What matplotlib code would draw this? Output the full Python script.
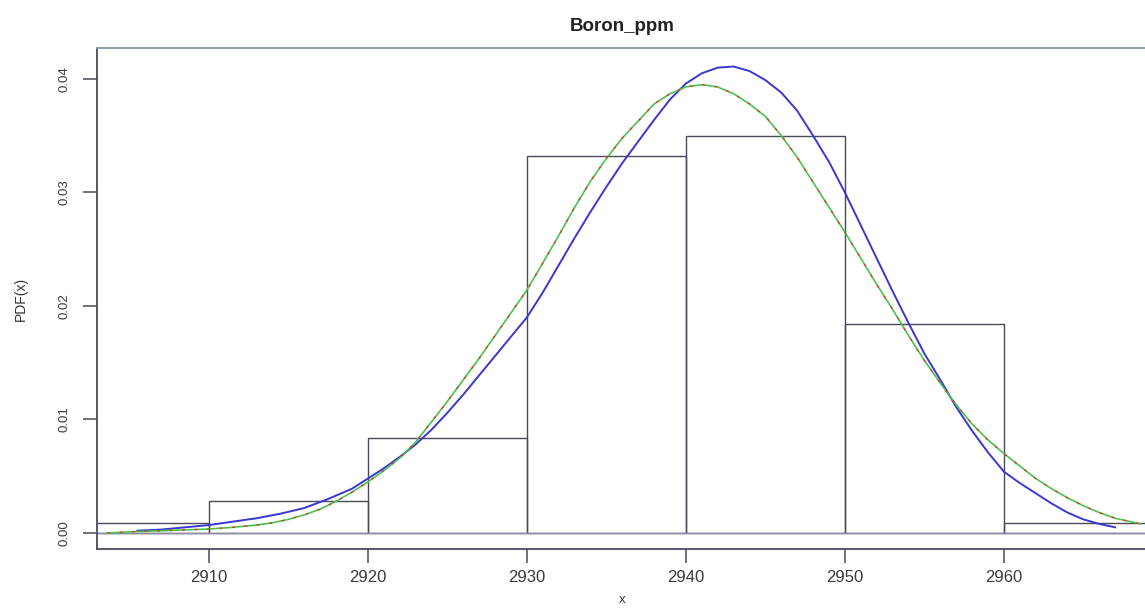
import numpy as np
import matplotlib
matplotlib.use('Agg')
import matplotlib.pyplot as plt

plt.rcParams['font.family'] = ['Liberation Sans', 'DejaVu Sans']

# Histogram of Boron_ppm (density scale, bin width 10)
bin_edges = [2900, 2910, 2920, 2930, 2940, 2950, 2960, 2970]
bin_density = [0.0009, 0.0028, 0.0084, 0.0332, 0.0350, 0.0184, 0.0009]

# Fitted density curves
blue_x = [2905.5, 2907, 2908.5, 2910, 2911.5, 2913, 2914.5, 2916, 2917.5, 2919,
          2920, 2921, 2922, 2923, 2924, 2925, 2926, 2927, 2928, 2929,
          2930, 2931, 2932, 2933, 2934, 2935, 2936, 2937, 2938, 2939,
          2940, 2941, 2942, 2943, 2944, 2945, 2946, 2947, 2948, 2949,
          2950, 2951, 2952, 2953, 2954, 2955, 2956, 2957, 2958, 2959,
          2960, 2961, 2962, 2963, 2964, 2965, 2966, 2967]
blue_y = [0.0002, 0.0003, 0.0005, 0.0007, 0.0010, 0.0013, 0.0017, 0.0022, 0.0030, 0.0039,
          0.0048, 0.0057, 0.0067, 0.0078, 0.0091, 0.0106, 0.0122, 0.0139, 0.0156, 0.0173,
          0.0190, 0.0212, 0.0236, 0.0260, 0.0283, 0.0305, 0.0326, 0.0345, 0.0364, 0.0382,
          0.0396, 0.0405, 0.0410, 0.0411, 0.0407, 0.0399, 0.0388, 0.0372, 0.0350, 0.0327,
          0.0300, 0.0271, 0.0242, 0.0213, 0.0185, 0.0158, 0.0135, 0.0111, 0.0090, 0.0071,
          0.0054, 0.0044, 0.0035, 0.0026, 0.0018, 0.0012, 0.0008, 0.0005]

green_x = [2903.6, 2905, 2907, 2909, 2910, 2911.5, 2913, 2914, 2915, 2916,
           2917, 2918, 2919, 2920, 2921, 2922, 2923, 2924, 2925, 2926,
           2927, 2928, 2929, 2930, 2931, 2932, 2933, 2934, 2935, 2936,
           2937, 2938, 2939, 2940, 2941, 2942, 2943, 2944, 2945, 2946,
           2947, 2948, 2949, 2950, 2951, 2952, 2953, 2954, 2955, 2956,
           2957, 2958, 2959, 2960, 2961, 2962, 2963, 2964, 2965, 2966,
           2967, 2968.6]
green_y = [0.0000, 0.0001, 0.0002, 0.0003, 0.00035, 0.0005, 0.0007, 0.0009, 0.0012, 0.0016,
           0.0021, 0.0028, 0.0036, 0.0045, 0.0055, 0.0066, 0.0080, 0.0098, 0.0116, 0.0135,
           0.0154, 0.0174, 0.0194, 0.0214, 0.0238, 0.0262, 0.0287, 0.0310, 0.0330, 0.0348,
           0.0363, 0.0378, 0.0387, 0.0393, 0.0395, 0.0393, 0.0387, 0.0378, 0.0367, 0.0350,
           0.0331, 0.0309, 0.0287, 0.0265, 0.0242, 0.0219, 0.0197, 0.0174, 0.0152, 0.0132,
           0.0113, 0.0096, 0.0082, 0.0070, 0.0059, 0.0048, 0.0039, 0.0031, 0.0024, 0.0018,
           0.0013, 0.0008]

fig = plt.figure(figsize=(11.45, 6.08), dpi=100)
ax = fig.add_axes([97 / 1145, 1 - 549 / 608, 1050 / 1145, 501 / 608])

# bars
for i in range(len(bin_density)):
    ax.add_patch(plt.Rectangle((bin_edges[i], 0), bin_edges[i + 1] - bin_edges[i],
                               bin_density[i], fill=False, edgecolor='#4a4a5a', lw=1.0))
ax.axhline(0, color='#8c8ca8', lw=1.0)

ax.plot(blue_x, blue_y, color='#3838d0', lw=1.4)
ax.plot(green_x, green_y, color='#4cc24c', lw=1.2)
ax.plot(green_x, green_y, color='#d04030', lw=1.0, dashes=(2, 7))

ax.set_xlim(2902.96, 2969.0)
ax.set_ylim(-0.00141, 0.04273)
ax.set_xticks([2910, 2920, 2930, 2940, 2950, 2960])
ax.set_yticks([0.00, 0.01, 0.02, 0.03, 0.04])
ax.set_yticklabels(['0.00', '0.01', '0.02', '0.03', '0.04'], rotation=90, va='center')

for s in ax.spines.values():
    s.set_color('#4a4a5a')
    s.set_linewidth(1.3)
ax.spines['top'].set_color('#8c9aa8')
ax.tick_params(direction='out', length=10, width=1.1, color='#4a4a5a',
               labelcolor='#3a3a3a')
ax.tick_params(axis='x', labelsize=12, pad=5)
ax.tick_params(axis='y', labelsize=9.5, pad=9)

ax.set_title('Boron_ppm', fontsize=13.5, fontweight='bold', color='#222222', pad=12)
# x label sits close to the bottom edge
fig.text(622 / 1145, 1 - 600 / 608, 'x', fontsize=9.5, color='#333333',
         ha='center', va='center')
ax.set_ylabel('PDF(x)', fontsize=10, color='#333333', labelpad=22)

fig.savefig('out.png', dpi=100)
